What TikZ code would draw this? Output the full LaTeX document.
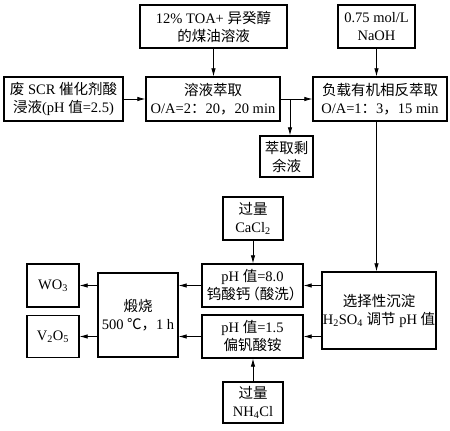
\documentclass[tikz,border=0pt]{standalone}
\usepackage{fontspec}
\setmainfont{Liberation Serif}
\newfontfamily\cjk{Noto Sans CJK SC}
\newcommand\zhs[1]{{\cjk #1}}
\usetikzlibrary{arrows.meta}
\begin{document}
\begin{tikzpicture}[x=1pt,y=-1pt,
  box/.style={draw, line width=1.4pt, align=center, inner sep=0pt,
    font=\fontsize{14.5}{18}\selectfont},
  arr/.style={line width=0.8pt, -{Latex[length=8pt,width=4.5pt]}},
  ln/.style={line width=0.8pt}]
\useasboundingbox (0,0) rectangle (450,431);
\node[box, minimum width=147pt, minimum height=43pt] (toa) at (213.5,26.5)
  {12\% TOA+ \zhs{异癸醇}\\\zhs{的煤油溶液}};
\node[box, minimum width=77pt, minimum height=43pt] (naoh) at (376.5,26.5)
  {0.75 mol/L\\NaOH};
\node[box, minimum width=119pt, minimum height=44pt] (waste) at (63.5,99)
  {\zhs{废} SCR \zhs{催化剂酸}\\\zhs{浸液}(pH \zhs{值}=2.5)};
\node[box, minimum width=134pt, minimum height=44pt] (ext) at (213,99)
  {\zhs{溶液萃取}\\O/A=2\zhs{：}20\zhs{，}20 min};
\node[box, minimum width=134pt, minimum height=44pt] (strip) at (380,99)
  {\zhs{负载有机相反萃取}\\O/A=1\zhs{：}3\zhs{，}15 min};
\node[box, minimum width=53pt, minimum height=41pt] (raff) at (286.5,156.5)
  {\zhs{萃取剩}\\\zhs{余液}};
\node[box, minimum width=60pt, minimum height=43pt] (cacl) at (253,218.5)
  {\zhs{过量}\\CaCl\textsubscript{2}};
\node[box, minimum width=101pt, minimum height=43pt] (ph8) at (252.5,285.5)
  {pH \zhs{值}=8.0\\\zhs{钨酸钙\kern-5pt（酸洗）\kern-5pt}};
\node[box, minimum width=101pt, minimum height=43pt] (ph15) at (252.5,336.5)
  {pH \zhs{值}=1.5\\\zhs{偏钒酸铵}};
\node[box, minimum width=60pt, minimum height=41pt] (nh4) at (253,402.5)
  {\zhs{过量}\\NH\textsubscript{4}Cl};
\node[box, minimum width=114pt, minimum height=77pt] (sel) at (379,310.5)
  {\zhs{选择性沉淀}\\H\textsubscript{2}SO\textsubscript{4} \zhs{调节} pH \zhs{值}};
\node[box, minimum width=80pt, minimum height=84pt] (calc) at (138,315)
  {\zhs{煅烧}\\500 \zhs{℃，}1 h};
\node[box, minimum width=52pt, minimum height=43pt] (wo3) at (53,285.5)
  {WO\textsubscript{3}};
\node[box, minimum width=52pt, minimum height=42pt] (v2o5) at (53,336.5)
  {V\textsubscript{2}O\textsubscript{5}};
\coordinate (br) at (290,99);
% connectors
\draw[arr] (toa.south) -- (toa.south |- ext.north);
\draw[arr] (naoh.south) -- (naoh.south |- strip.north);
\draw[arr] (waste.east) -- (ext.west);
\draw[arr] (ext.east) -- (strip.west);
\draw[arr] (br) -- (br |- raff.north);
\draw[arr] (naoh.south |- strip.south) -- (naoh.south |- sel.north);
\draw[arr] (sel.west |- ph8) -- (ph8.east);
\draw[arr] (sel.west |- ph15) -- (ph15.east);
\draw[arr] (ph8.west) -- (calc.east |- ph8);
\draw[arr] (ph15.west) -- (calc.east |- ph15);
\draw[arr] (calc.west |- wo3) -- (wo3.east);
\draw[arr] (calc.west |- v2o5) -- (v2o5.east);
\draw[arr] (cacl.south) -- (ph8.north -| cacl.south);
\draw[arr] (nh4.north) -- (ph15.south -| nh4.north);
\end{tikzpicture}
\end{document}
